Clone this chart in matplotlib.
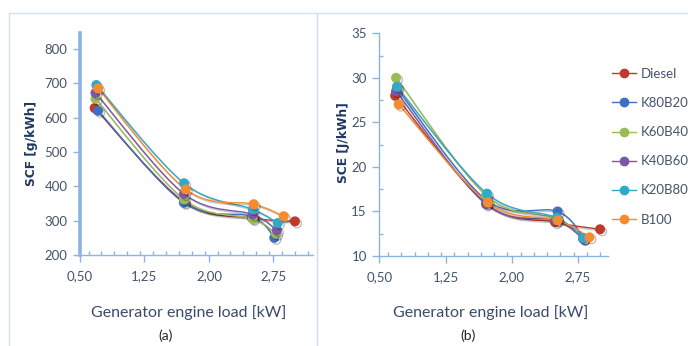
import matplotlib
matplotlib.use("Agg")
import matplotlib.pyplot as plt
from matplotlib.path import Path
from matplotlib.patches import PathPatch, Rectangle
from matplotlib.ticker import MultipleLocator
import matplotlib.patheffects as pe
import numpy as np

plt.rcParams['font.family'] = ['Lato', 'DejaVu Sans']

series = ["Diesel", "K80B20", "K60B40", "K40B60", "K20B80", "B100"]
colors = ["#C0392B", "#3F6FC1", "#9BBB59", "#7B57A6", "#33A9C8", "#F68B2F"]

# (a) SCF [g/kWh]
scf_x = {
    "Diesel": [0.67, 1.71, 2.50, 3.00],
    "K80B20": [0.71, 1.71, 2.50, 2.76],
    "K60B40": [0.68, 1.71, 2.51, 2.78],
    "K40B60": [0.68, 1.71, 2.51, 2.79],
    "K20B80": [0.69, 1.71, 2.51, 2.80],
    "B100":   [0.71, 1.73, 2.52, 2.87],
}
scf_y = {
    "Diesel": [628, 355, 308, 298],
    "K80B20": [620, 352, 312, 250],
    "K60B40": [655, 362, 305, 262],
    "K40B60": [672, 378, 318, 272],
    "K20B80": [695, 409, 333, 293],
    "B100":   [685, 391, 348, 313],
}
# (b) SCE [J/kWh]
sce_x = {
    "Diesel": [0.68, 1.71, 2.49, 3.00],
    "K80B20": [0.70, 1.71, 2.52, 2.81],
    "K60B40": [0.69, 1.71, 2.51, 2.81],
    "K40B60": [0.69, 1.71, 2.50, 2.81],
    "K20B80": [0.70, 1.72, 2.51, 2.81],
    "B100":   [0.72, 1.73, 2.52, 2.88],
}
sce_y = {
    "Diesel": [28.0, 15.9, 13.8, 13.0],
    "K80B20": [28.8, 16.3, 15.0, 12.0],
    "K60B40": [30.0, 16.8, 14.2, 12.0],
    "K40B60": [28.5, 15.8, 14.0, 11.9],
    "K20B80": [29.0, 17.0, 14.3, 12.0],
    "B100":   [27.0, 16.0, 14.0, 12.1],
}
xticks = [0.50, 1.25, 2.00, 2.75]
xticklabels = ["0,50", "1,25", "2,00", "2,75"]

W, H = 688, 346
fig = plt.figure(figsize=(W / 100, H / 100), dpi=100)

AX_COL = "#8DB3E2"
TXT_COL = "#44546A"
LBL_COL = "#1F3864"

# panel frames
fig.add_artist(Rectangle((9 / W, -0.05), (317 - 9) / W, 1.05 - 13 / H, transform=fig.transFigure,
                         fill=False, ec="#D6E0EE", lw=1.0))
fig.add_artist(Rectangle((317 / W, -0.05), (700 - 317) / W, 1.05 - 13 / H, transform=fig.transFigure,
                         fill=False, ec="#D6E0EE", lw=1.0))


def smooth_path(xs, ys):
    pts = np.column_stack([xs, ys]).astype(float)
    n = len(pts)
    verts = [pts[0]]
    codes = [Path.MOVETO]
    for i in range(n - 1):
        p0 = pts[i - 1] if i > 0 else pts[i]
        p1 = pts[i]
        p2 = pts[i + 1]
        p3 = pts[i + 2] if i + 2 < n else pts[i + 1]
        c1 = p1 + (p2 - p0) / 6.0
        c2 = p2 - (p3 - p1) / 6.0
        verts += [c1, c2, p2]
        codes += [Path.CURVE4] * 3
    return Path(verts, codes)


shadow_line = [pe.SimpleLineShadow(offset=(1.2, -1.2), alpha=0.22, shadow_color="k"), pe.Normal()]


def make_axes(rect, xd, yd, ylim, yticks, xlim, ylabel, ylabel_x, thick_spine, yminor):
    ax = fig.add_axes(rect)
    for i, s in enumerate(series):
        path = smooth_path(xd[s], yd[s])
        patch = PathPatch(path, fill=False, ec=colors[i], lw=1.0, zorder=2)
        patch.set_path_effects(shadow_line)
        ax.add_patch(patch)
        ax.plot(xd[s], yd[s], ls="none", marker="o", ms=6.2, color=colors[i], zorder=3,
                path_effects=[pe.SimpleLineShadow(offset=(1.5, -1.5), alpha=0.25), pe.Normal()])
    ax.set_xlim(*xlim)
    ax.set_ylim(*ylim)
    for sp in ["top", "right"]:
        ax.spines[sp].set_visible(False)
    ax.spines["left"].set_color(AX_COL)
    ax.spines["bottom"].set_color(AX_COL)
    ax.spines["left"].set_linewidth(2.6 if thick_spine else 1.0)
    ax.spines["bottom"].set_linewidth(1.0)
    ax.set_xticks(xticks)
    ax.set_xticklabels(xticklabels)
    ax.xaxis.set_minor_locator(MultipleLocator(0.15))
    ax.set_yticks(yticks)
    if yminor:
        ax.yaxis.set_minor_locator(MultipleLocator(yminor))
    ax.tick_params(axis="x", which="major", direction="out", length=5, width=1, color=AX_COL,
                   labelsize=9.5, labelcolor=TXT_COL, pad=6)
    ax.tick_params(axis="x", which="minor", direction="in", length=3, width=1, color=AX_COL)
    ax.tick_params(axis="y", which="major", direction="out", length=5, width=1, color=AX_COL,
                   labelsize=9.5, labelcolor=TXT_COL, pad=4)
    ax.tick_params(axis="y", which="minor", direction="in", length=3, width=1, color=AX_COL)
    ax.patch.set_alpha(0)
    fig.text(ylabel_x / W, 1 - 143 / H, ylabel, rotation=90, ha="center", va="center",
             fontsize=8.8, fontweight="bold", color=LBL_COL, family=["DejaVu Sans"])
    return ax


axl = make_axes([80 / W, 1 - 255 / H, (313 - 80) / W, (255 - 32.5) / H], scf_x, scf_y,
                (200, 848), [200, 300, 400, 500, 600, 700, 800], (0.5, 3.21),
                "SCF [g/kWh]", 32, True, None)
axr = make_axes([379.3 / W, 1 - 256 / H, (608 - 379.3) / W, (256 - 33.3) / H], sce_x, sce_y,
                (10, 35), [10, 15, 20, 25, 30, 35], (0.5, 3.09),
                "SCE [J/kWh]", 344, False, 2.5)

for cx, lab in [(189, "(a)"), (491, "(b)")]:
    fig.text(cx / W, 1 - 313 / H, "Generator engine load [kW]", ha="center", va="center",
             fontsize=11.5, color="#3B4B6B")
    fig.text(cx / W - 23 / W, 1 - 336 / H, lab, ha="center", va="center", fontsize=10, color="#222222")

handles = [plt.Line2D([], [], color=c, marker="o", ms=6, lw=1.0) for c in colors]
fig.legend(handles, series, loc="upper left", bbox_to_anchor=(600 / W, 1 - 56 / H),
           frameon=False, fontsize=9.5, labelspacing=1.3, handlelength=1.8, handletextpad=0.4,
           labelcolor=TXT_COL)

fig.savefig("out.png", dpi=100)
